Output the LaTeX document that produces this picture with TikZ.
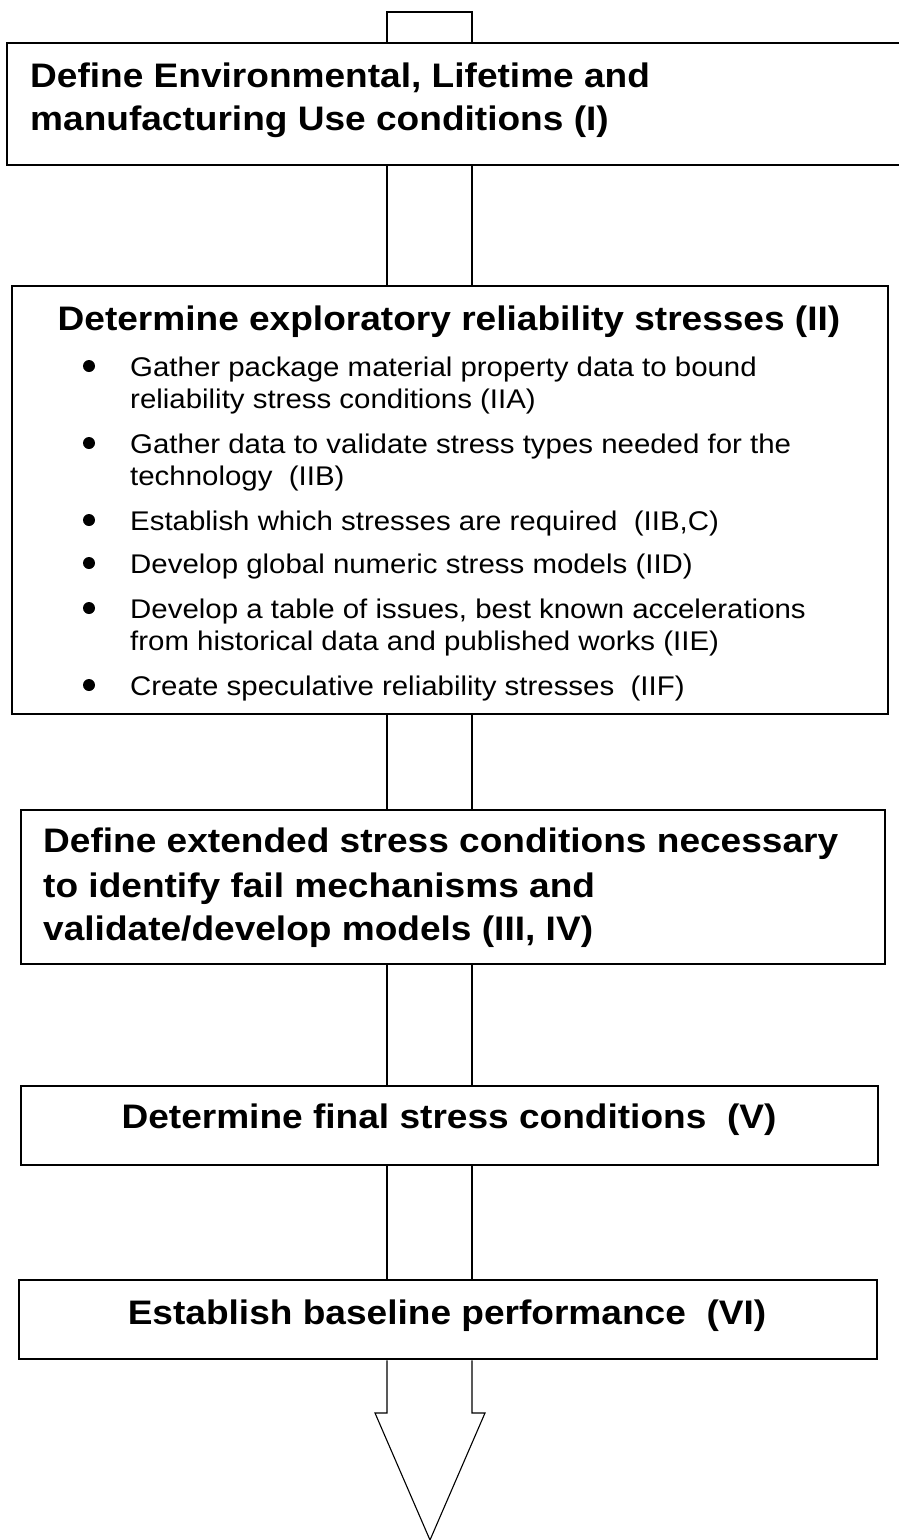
\documentclass[tikz,border=0pt]{standalone}
\usepackage{fontspec}
\setmainfont{Liberation Sans}[FakeStretch=1.09]
\begin{document}
\begin{tikzpicture}[x=1pt,y=-1pt,
  box/.style={draw=black, line width=2.3pt, fill=white, rectangle, inner sep=0pt, anchor=north west},
  shaft/.style={draw=black, line width=1.1pt, line join=miter},
  head/.style={font=\fontsize{34}{43}\selectfont\bfseries, inner sep=0pt},
  item/.style={font=\fontsize{27}{32}\selectfont, inner sep=0pt, anchor=base west},
  dot/.style={circle, fill=black, inner sep=0pt, minimum size=12pt}]
\useasboundingbox (0,0) rectangle (898,1540);
\coordinate (sl) at (387,0);
\coordinate (sr) at (472,0);
\coordinate (stubL) at (387,12);
\coordinate (stubR) at (472,12);
\coordinate (tip) at (430,1540);
\coordinate (hl) at (375,1413);
\coordinate (hr) at (485,1413);
% boxes
\node[box, minimum width=904pt, minimum height=122pt] (I) at (6,42) {};
\node[box, minimum width=876pt, minimum height=428pt] (II) at (11,285) {};
\node[box, minimum width=864pt, minimum height=154pt] (III) at (20,809) {};
\node[box, minimum width=857pt, minimum height=79pt] (V) at (20,1085) {};
\node[box, minimum width=858pt, minimum height=79pt] (VI) at (18,1279) {};
% arrow shaft
\draw[shaft] (I.north -| sl) -- (stubL) -- (stubR) -- (I.north -| sr);
\draw[shaft] (I.south -| sl) -- (II.north -| sl);
\draw[shaft] (I.south -| sr) -- (II.north -| sr);
\draw[shaft] (II.south -| sl) -- (III.north -| sl);
\draw[shaft] (II.south -| sr) -- (III.north -| sr);
\draw[shaft] (III.south -| sl) -- (V.north -| sl);
\draw[shaft] (III.south -| sr) -- (V.north -| sr);
\draw[shaft] (V.south -| sl) -- (VI.north -| sl);
\draw[shaft] (V.south -| sr) -- (VI.north -| sr);
\draw[shaft] (VI.south -| sl) -- (hl -| sl) -- (hl) -- (tip) -- (hr) -- (hr -| sr) -- (VI.south -| sr);
% box I text
\node[head, anchor=base west] (t1a) at (30,87) {Define Environmental, Lifetime and};
\node[head, anchor=base west] (t1b) at (30,130) {manufacturing Use conditions (I)};
% box II
\node[head, anchor=base] (t2) at (449,330) {Determine exploratory reliability stresses (II)};
\node[dot] (d1) at (89,366) {};
\node[item] (i1a) at (130,376) {Gather package material property data to bound};
\node[item] (i1b) at (130,408) {reliability stress conditions (IIA)};
\node[dot] (d2) at (89,443) {};
\node[item] (i2a) at (130,453) {Gather data to validate stress types needed for the};
\node[item] (i2b) at (130,485) {technology\ \ (IIB)};
\node[dot] (d3) at (89,520) {};
\node[item] (i3) at (130,530) {Establish which stresses are required\ \ (IIB,C)};
\node[dot] (d4) at (89,563) {};
\node[item] (i4) at (130,573) {Develop global numeric stress models (IID)};
\node[dot] (d5) at (89,608) {};
\node[item] (i5a) at (130,618) {Develop a table of issues, best known accelerations};
\node[item] (i5b) at (130,650) {from historical data and published works (IIE)};
\node[dot] (d6) at (89,685) {};
\node[item] (i6) at (130,695) {Create speculative reliability stresses\ \ (IIF)};
% box III
\node[head, anchor=base west] (t3a) at (43,852) {Define extended stress conditions necessary};
\node[head, anchor=base west] (t3b) at (43,897) {to identify fail mechanisms and};
\node[head, anchor=base west] (t3c) at (43,940) {validate/develop models (III, IV)};
% box V
\node[head, anchor=base] (t5) at (449,1128) {Determine final stress conditions\ \ (V)};
% box VI
\node[head, anchor=base] (t6) at (447,1324) {Establish baseline performance\ \ (VI)};
\end{tikzpicture}
\end{document}
